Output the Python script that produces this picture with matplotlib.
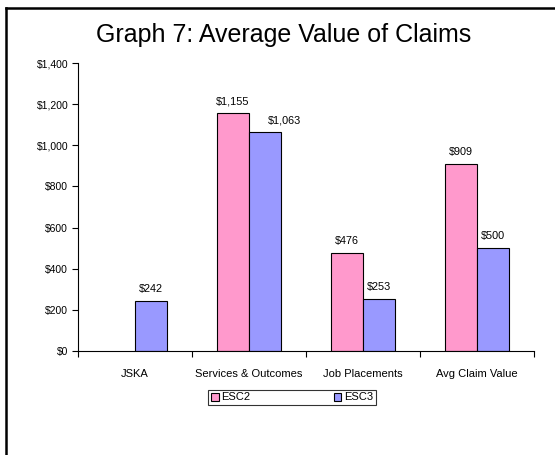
import matplotlib
matplotlib.use("Agg")
import matplotlib.pyplot as plt
from matplotlib.ticker import FuncFormatter, FixedLocator
from matplotlib.lines import Line2D
import numpy as np

plt.rcParams['font.family'] = ['Liberation Sans', 'DejaVu Sans']

categories = ["JSKA", "Services & Outcomes", "Job Placements", "Avg Claim Value"]
series_names = ["ESC2", "ESC3"]
esc2 = [np.nan, 1155, 476, 909]
esc3 = [242, 1063, 253, 500]
colors = ["#FF99CC", "#9999FF"]
yticks = [0, 200, 400, 600, 800, 1000, 1200, 1400]

fig = plt.figure(figsize=(5.55, 4.55), dpi=100)
ax = fig.add_axes([78/555, 104/455, 456/555, 288/455])

x = np.arange(len(categories))
w = 0.285
b1 = ax.bar(x - w/2, esc2, w, color=colors[0], edgecolor="black", linewidth=0.8, label=series_names[0])
b2 = ax.bar(x + w/2, esc3, w, color=colors[1], edgecolor="black", linewidth=0.8, label=series_names[1])

def fmt(v):
    return "${:,.0f}".format(v)

for i, v in enumerate(esc2):
    if not np.isnan(v):
        ax.annotate(fmt(v), (x[i] - w/2, v), xytext=(0, 5), textcoords="offset points",
                    ha="center", va="bottom", fontsize=7.8)
for i, v in enumerate(esc3):
    dx = 0
    if not np.isnan(esc2[i]) and esc2[i] > v and esc2[i] - v < 150:
        dx = 14
    ax.annotate(fmt(v), (x[i] + w/2, v), xytext=(dx, 5), textcoords="offset points",
                ha="center", va="bottom", fontsize=7.8)

ax.set_xlim(-0.5, len(categories) - 0.5)
ax.set_ylim(0, 1400)
ax.set_yticks(yticks)
ax.yaxis.set_major_formatter(FuncFormatter(lambda v, p: fmt(v)))
ax.tick_params(axis='y', labelsize=7.5, direction='out', length=4, width=0.8, pad=3)

ax.xaxis.set_major_locator(FixedLocator(np.arange(len(categories) + 1) - 0.5))
ax.xaxis.set_major_formatter(FuncFormatter(lambda v, p: ""))
ax.set_xticks(x, categories, minor=True)
ax.tick_params(axis='x', which='major', direction='out', length=4, width=0.8)
ax.tick_params(axis='x', which='minor', length=0, labelsize=8, pad=13)

for s in ["top", "right"]:
    ax.spines[s].set_visible(False)
ax.spines["left"].set_linewidth(0.8)
ax.spines["bottom"].set_linewidth(0.8)

fig.text(284/555, 1 - 35/455, "Graph 7: Average Value of Claims", ha="center", va="center", fontsize=18)

leg = fig.legend(handles=[b1, b2], labels=series_names, loc="center", bbox_to_anchor=(292/555, 1 - 397.5/455),
                 ncol=2, fontsize=8, frameon=True, fancybox=False, edgecolor="black",
                 handlelength=0.7, handleheight=0.7, handletextpad=0.2, columnspacing=7.5,
                 borderpad=0.25, borderaxespad=0)
leg.get_frame().set_linewidth(0.8)

fig.add_artist(Line2D([5.5/555, 5.5/555], [0, 1 - 8/455], transform=fig.transFigure, color="black", linewidth=1.8))
fig.add_artist(Line2D([5.5/555, 1], [1 - 8/455, 1 - 8/455], transform=fig.transFigure, color="black", linewidth=1.8))

fig.savefig("out.png", dpi=100)
